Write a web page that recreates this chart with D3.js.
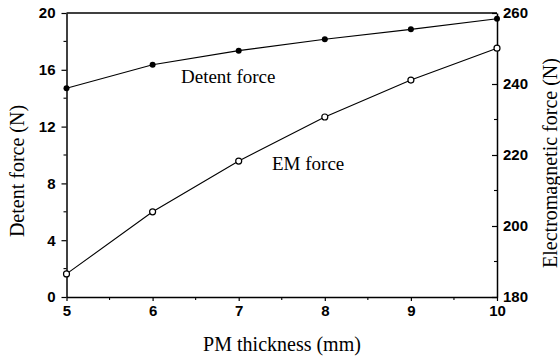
<!DOCTYPE html>
<meta charset="utf-8">
<title>detent and EM force</title>
<style>
body { margin: 0; background: #fff; }
svg text { fill: #000; }
.tick text { font-family: "Liberation Sans", Arial, sans-serif; font-size: 15px; font-weight: bold; }
.title { font-family: "Liberation Serif", "Times New Roman", serif; font-size: 20px; }
.note { font-family: "Liberation Serif", "Times New Roman", serif; font-size: 19px; }
</style>
<svg id="chart" width="560" height="358"></svg>
<script src="https://cdn.jsdelivr.net/npm/d3@7"></script>
<script>
// PM thickness (mm)
var thickness = [5, 6, 7, 8, 9, 10];
// detent force, left axis (N)
var detentForce = [14.7, 16.35, 17.35, 18.15, 18.85, 19.6];
// electromagnetic force, right axis (N)
var emForce = [186.5, 204, 218.3, 230.7, 241.1, 250.1];

var xTicks = [5, 6, 7, 8, 9, 10];
var leftTicks = [0, 4, 8, 12, 16, 20];
var rightTicks = [180, 200, 220, 240, 260];

var svg = d3.select('#chart');
var plotL = 66.5, plotR = 497, plotT = 13, plotB = 297;

var x = d3.scaleLinear().domain([5, 10]).range([plotL, plotR]);
var yL = d3.scaleLinear().domain([0, 20]).range([plotB, plotT]);
var yR = d3.scaleLinear().domain([180, 260]).range([plotB, plotT]);

// frame top line
svg.append('line')
	.attr('x1', plotL).attr('x2', plotR)
	.attr('y1', plotT).attr('y2', plotT)
	.attr('stroke', '#000').attr('stroke-width', 1.3);

// minor ticks
var gMinor = svg.append('g').attr('stroke', '#000').attr('stroke-width', 1.1);
d3.range(2, 20, 4).forEach(function(v) {
	gMinor.append('line').attr('x1', plotL - 3).attr('x2', plotL).attr('y1', yL(v)).attr('y2', yL(v));
});
d3.range(190, 260, 20).forEach(function(v) {
	gMinor.append('line').attr('x1', plotR - 3).attr('x2', plotR).attr('y1', yR(v)).attr('y2', yR(v));
});
d3.range(5.5, 10, 1).forEach(function(v) {
	gMinor.append('line').attr('x1', x(v)).attr('x2', x(v)).attr('y1', plotB).attr('y2', plotB + 3);
});

svg.append('g')
	.attr('transform', 'translate(0,' + plotB + ')')
	.call(d3.axisBottom(x).tickValues(xTicks).tickFormat(d3.format('d')).tickSize(4).tickSizeOuter(0).tickPadding(4));

svg.append('g')
	.attr('transform', 'translate(' + plotL + ',0)')
	.call(d3.axisLeft(yL).tickValues(leftTicks).tickSize(5).tickSizeOuter(0).tickPadding(6));

svg.append('g')
	.attr('transform', 'translate(' + plotR + ',0)')
	.call(d3.axisRight(yR).tickValues(rightTicks).tickSize(-5).tickSizeOuter(0).tickPadding(6));

svg.selectAll('.domain').attr('stroke-width', 1.5);
svg.selectAll('.tick line').attr('stroke-width', 1.2);

// series lines
var detentLine = d3.line().x(function(d, i) { return x(thickness[i]); }).y(function(d) { return yL(d); });
var emLine = d3.line().x(function(d, i) { return x(thickness[i]); }).y(function(d) { return yR(d); });

svg.append('path').datum(detentForce).attr('d', detentLine)
	.attr('fill', 'none').attr('stroke', '#000').attr('stroke-width', 1.1);
svg.append('path').datum(emForce).attr('d', emLine)
	.attr('fill', 'none').attr('stroke', '#000').attr('stroke-width', 1.1);

svg.append('g').selectAll('circle').data(detentForce).enter().append('circle')
	.attr('cx', function(d, i) { return x(thickness[i]); })
	.attr('cy', function(d) { return yL(d); })
	.attr('r', 3).attr('fill', '#000');

svg.append('g').selectAll('circle').data(emForce).enter().append('circle')
	.attr('cx', function(d, i) { return x(thickness[i]); })
	.attr('cy', function(d) { return yR(d); })
	.attr('r', 3).attr('fill', '#fff').attr('stroke', '#000').attr('stroke-width', 1.2);

// labels
svg.append('text').attr('class', 'note').attr('x', 181).attr('y', 83).text('Detent force');
svg.append('text').attr('class', 'note').attr('x', 272).attr('y', 170).text('EM force');

svg.append('text').attr('class', 'title').attr('text-anchor', 'middle')
	.attr('x', 282).attr('y', 351).text('PM thickness (mm)');
svg.append('text').attr('class', 'title').attr('text-anchor', 'middle')
	.attr('transform', 'translate(24,171) rotate(-90)').text('Detent force (N)');
svg.append('text').attr('class', 'title').attr('text-anchor', 'middle')
	.attr('transform', 'translate(557,163) rotate(-90)').text('Electromagnetic force (N)');
</script>
